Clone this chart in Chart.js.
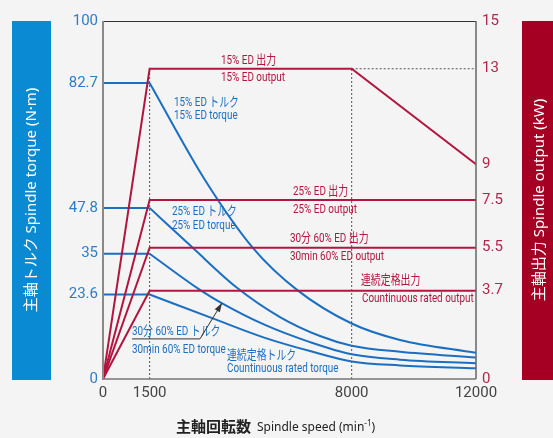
<!DOCTYPE html>
<html>
<head>
<meta charset="utf-8">
<script src="https://cdn.jsdelivr.net/npm/chart.js@4"></script>
<style>
html,body{margin:0;padding:0;background:#f4f4f4;}
canvas{display:block;}
</style>
</head>
<body>
<canvas id="spindleChart" width="553" height="438"></canvas>
<script>
// axis ticks
var speedTicks=[ 0, 1500, 8000, 12000 ];
var torqueTicks=[ 0, 23.6, 35, 47.8, 82.7, 100 ];
var outputTicks=[ 0, 3.7, 5.5, 7.5, 9, 13, 15 ];

// constant torque part (min-1)
var baseSpeed=[ 0, 1500 ];

// torque curves (N·m)
var speed15=[ 1500, 3281, 4835, 6241, 8000, 9555, 12000 ];
var torque15=[ 82.7, 55.6, 36.5, 24.9, 15.5, 10.9, 7.3 ];
var speed25=[ 1500, 2905, 4280, 5694, 6981, 8000, 9555, 12000 ];
var torque25=[ 47.8, 36.5, 25.7, 17.3, 12.0, 9.3, 7.6, 6.0 ];
var speed30=[ 1500, 3120, 3818, 5211, 6660, 8000, 9555, 12000 ];
var torque30=[ 35, 24.9, 21.2, 15.1, 10.3, 6.9, 5.4, 4.4 ];
var speedCont=[ 1500, 3658, 5211, 6660, 8000, 9555, 12000 ];
var torqueCont=[ 23.6, 16.5, 11.5, 7.8, 4.9, 3.8, 3.0 ];

// output lines (kW)
var outSpeed15=[ 0, 1500, 8000, 12000 ];
var output15=[ 0, 13, 13, 9 ];
var outSpeed=[ 0, 1500, 12000 ];
var output25=[ 0, 7.5, 7.5 ];
var output30=[ 0, 5.5, 5.5 ];
var outputCont=[ 0, 3.7, 3.7 ];

var BLUE='#1a6fc2';
var RED='#b2153f';

function pts( xs, ys )
{
        return xs.map( function( x, i ) { return { x: x, y: ys[ i ] }; } );
}
function flat( v )
{
        return pts( baseSpeed, [ v, v ] );
}
function torqueSet( data, curved )
{
        return { data: data, yAxisID: 'y', borderColor: BLUE, borderWidth: 2, pointRadius: 0,
                cubicInterpolationMode: curved ? 'monotone' : 'default', tension: 0, order: 1 };
}
function outputSet( data )
{
        return { data: data, yAxisID: 'y2', borderColor: RED, borderWidth: 2, pointRadius: 0, tension: 0, order: 0 };
}
function guideSet( data )
{
        return { data: data, yAxisID: 'y2', borderColor: '#555', borderWidth: 1, borderDash: [ 2, 2 ], pointRadius: 0, tension: 0, order: 2 };
}

// text notes, anchored in speed / torque units
var notes=[
        { t: '15% ED 出力', x: 3796, y: 88.8, c: RED },
        { t: '15% ED output', x: 3796, y: 84.2, c: RED },
        { t: '15% ED トルク', x: 2284, y: 77.1, c: BLUE },
        { t: '15% ED torque', x: 2284, y: 73.5, c: BLUE },
        { t: '25% ED 出力', x: 6112, y: 52.2, c: RED },
        { t: '25% ED output', x: 6112, y: 47.2, c: RED },
        { t: '25% ED トルク', x: 2220, y: 46.6, c: BLUE },
        { t: '25% ED torque', x: 2220, y: 42.7, c: BLUE },
        { t: '30分 60% ED 出力', x: 6016, y: 39.1, c: RED },
        { t: '30min 60% ED output', x: 6016, y: 34.1, c: RED },
        { t: '連続定格出力', x: 8300, y: 27.4, c: RED },
        { t: 'Countinuous rated output', x: 8332, y: 22.3, c: RED },
        { t: '30分 60% ED トルク', x: 933, y: 13.1, c: BLUE },
        { t: '30min 60% ED torque', x: 933, y: 8.1, c: BLUE },
        { t: '連続定格トルク', x: 3989, y: 6.4, c: BLUE },
        { t: 'Countinuous rated torque', x: 3989, y: 2.8, c: BLUE }
];
var pointer=[ { x: 933, y: 11.2 }, { x: 3120, y: 11.2 }, { x: 3828, y: 21.2 } ];

var decor={
        id: 'decor',
        beforeDraw: function( chart )
        {
                var c=chart.ctx, a=chart.chartArea;
                c.save();
                c.fillStyle='#f4f4f4';
                c.fillRect( 0, 0, chart.width, chart.height );
                // side bands
                c.fillStyle='#0a8ad2';
                c.fillRect( 12, a.top, 39, a.bottom-a.top+1 );
                c.fillStyle='#a50024';
                c.fillRect( a.right+46, a.top, chart.width-a.right-46, a.bottom-a.top+1 );
                c.fillStyle='#fff';
                c.font='15px "Noto Sans", "Noto Sans CJK JP"';
                c.textAlign='center';
                c.textBaseline='middle';
                var mid=( a.top+a.bottom )/2;
                c.translate( 32, mid );
                c.rotate( -Math.PI/2 );
                c.fillText( '主軸トルク Spindle torque (N·m)', 0, 0 );
                c.setTransform( 1, 0, 0, 1, 0, 0 );
                c.translate( a.right+64, mid );
                c.rotate( -Math.PI/2 );
                c.fillText( '主軸出力 Spindle output (kW)', 0, 0 );
                c.restore();

                // x title
                c.save();
                c.fillStyle='#222';
                c.textBaseline='alphabetic';
                var tx=176, ty=432;
                c.font='bold 15px "Noto Sans CJK JP"';
                c.fillText( '主軸回転数', tx, ty );
                tx+=c.measureText( '主軸回転数' ).width+6;
                c.font='12px "Noto Sans"';
                c.fillText( 'Spindle speed (min', tx, ty-1 );
                tx+=c.measureText( 'Spindle speed (min' ).width;
                c.font='8px "Noto Sans"';
                c.fillText( '-1', tx, ty-6 );
                tx+=c.measureText( '-1' ).width;
                c.font='12px "Noto Sans"';
                c.fillText( ')', tx, ty-1 );
                c.restore();
        },
        afterDatasetsDraw: function( chart )
        {
                var c=chart.ctx, a=chart.chartArea, sx=chart.scales.x, sy=chart.scales.y;
                c.save();
                // frame
                c.lineWidth=1;
                c.strokeStyle='#333';
                c.beginPath(); c.moveTo( a.left, a.top+0.5 ); c.lineTo( a.right, a.top+0.5 ); c.stroke();
                c.lineWidth=1.5;
                c.strokeStyle='#666';
                c.beginPath(); c.moveTo( a.right, a.top ); c.lineTo( a.right, a.bottom ); c.stroke();
                c.strokeStyle='#777';
                c.beginPath(); c.moveTo( a.left, a.bottom ); c.lineTo( a.right, a.bottom ); c.stroke();
                c.lineWidth=2;
                c.strokeStyle='#8c8888';
                c.beginPath(); c.moveTo( a.left, a.top ); c.lineTo( a.left, a.bottom+1 ); c.stroke();

                // notes
                c.font='13px Roboto, "Noto Sans CJK JP"';
                c.textAlign='left';
                c.textBaseline='middle';
                notes.forEach( function( n )
                {
                        c.save();
                        c.fillStyle=n.c;
                        c.translate( sx.getPixelForValue( n.x ), sy.getPixelForValue( n.y ) );
                        c.scale( 0.76, 1 );
                        c.fillText( n.t, 0, 0 );
                        c.restore();
                } );

                // pointer arrow
                var p=pointer.map( function( q ) { return { x: sx.getPixelForValue( q.x ), y: sy.getPixelForValue( q.y ) }; } );
                c.strokeStyle='#333';
                c.lineWidth=1;
                c.beginPath();
                c.moveTo( p[ 0 ].x, p[ 0 ].y );
                c.lineTo( p[ 1 ].x, p[ 1 ].y );
                c.lineTo( p[ 2 ].x, p[ 2 ].y );
                c.stroke();
                var ang=Math.atan2( p[ 2 ].y-p[ 1 ].y, p[ 2 ].x-p[ 1 ].x );
                c.fillStyle='#333';
                c.beginPath();
                c.moveTo( p[ 2 ].x, p[ 2 ].y );
                c.lineTo( p[ 2 ].x-9*Math.cos( ang )+3*Math.sin( ang ), p[ 2 ].y-9*Math.sin( ang )-3*Math.cos( ang ) );
                c.lineTo( p[ 2 ].x-9*Math.cos( ang )-3*Math.sin( ang ), p[ 2 ].y-9*Math.sin( ang )+3*Math.cos( ang ) );
                c.closePath();
                c.fill();
                c.restore();
        }
};

function fixedTicks( list )
{
        return function( scale ) { scale.ticks=list.map( function( v ) { return { value: v }; } ); };
}

var ctx=document.getElementById( 'spindleChart' ).getContext( '2d' );
var spindleChart=new Chart( ctx, {
        type: 'line',
        plugins: [ decor ],
        data: {
                datasets: [
                        outputSet( pts( outSpeed15, output15 ) ),
                        outputSet( pts( outSpeed, output25 ) ),
                        outputSet( pts( outSpeed, output30 ) ),
                        outputSet( pts( outSpeed, outputCont ) ),
                        torqueSet( flat( torque15[ 0 ] ), false ),
                        torqueSet( flat( torque25[ 0 ] ), false ),
                        torqueSet( flat( torque30[ 0 ] ), false ),
                        torqueSet( flat( torqueCont[ 0 ] ), false ),
                        torqueSet( pts( speed15, torque15 ), true ),
                        torqueSet( pts( speed25, torque25 ), true ),
                        torqueSet( pts( speed30, torque30 ), true ),
                        torqueSet( pts( speedCont, torqueCont ), true ),
                        guideSet( pts( [ speedTicks[ 1 ], speedTicks[ 1 ] ], [ 0, output15[ 1 ] ] ) ),
                        guideSet( pts( [ speedTicks[ 2 ], speedTicks[ 2 ] ], [ 0, output15[ 2 ] ] ) ),
                        guideSet( pts( [ speedTicks[ 2 ], speedTicks[ 3 ] ], [ output15[ 2 ], output15[ 2 ] ] ) )
                ]
        },
        options: {
                responsive: false,
                animation: false,
                layout: { padding: { top: 21 } },
                plugins: { legend: { display: false }, tooltip: { enabled: false } },
                scales: {
                        x: {
                                type: 'linear', min: 0, max: 12000,
                                afterBuildTicks: fixedTicks( speedTicks ),
                                afterFit: function( s ) { s.height=59; },
                                grid: { display: false, drawTicks: false },
                                border: { display: false },
                                ticks: { padding: 5, color: '#444', font: { family: 'Roboto', size: 15 }, maxRotation: 0,
                                        callback: function( v ) { return String( v ); } }
                        },
                        y: {
                                position: 'left', min: 0, max: 100,
                                afterBuildTicks: fixedTicks( torqueTicks ),
                                afterFit: function( s ) { s.width=103; },
                                grid: { display: false, drawTicks: false },
                                border: { display: false },
                                ticks: { padding: 5, color: '#2f7cc6', font: { family: 'Roboto', size: 15 },
                                        callback: function( v ) { return String( v ); } }
                        },
                        y2: {
                                position: 'right', min: 0, max: 15,
                                afterBuildTicks: fixedTicks( outputTicks ),
                                afterFit: function( s ) { s.width=77; },
                                grid: { display: false, drawTicks: false },
                                border: { display: false },
                                ticks: { padding: 6, color: '#b3254b', font: { family: 'Roboto', size: 15 },
                                        callback: function( v ) { return String( v ); } }
                        }
                }
        }
} );
</script>
</body>
</html>
